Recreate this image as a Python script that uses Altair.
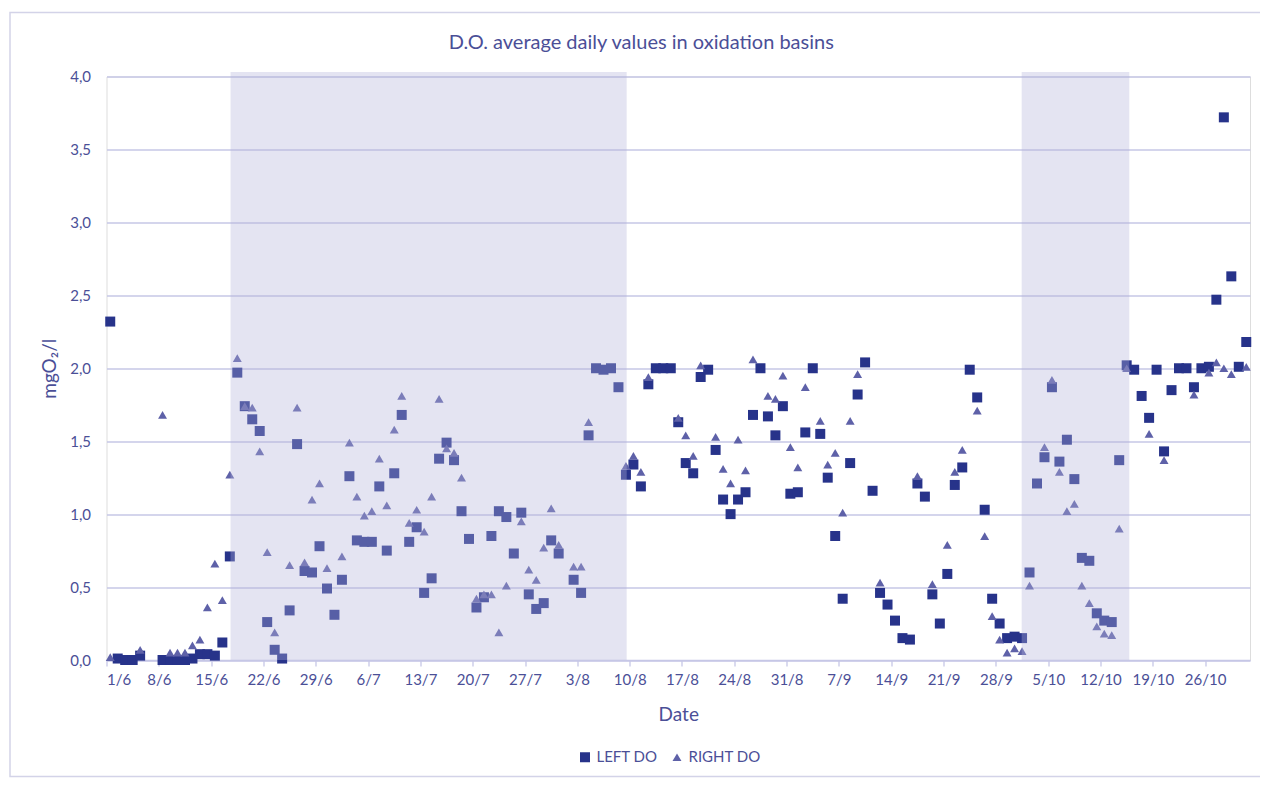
import json
from datetime import date

import altair as alt
import pandas as pd

# ---------------- data ----------------
chart_title = "D.O. average daily values in oxidation basins"
y_title = "mgO₂/l"
x_title = "Date"
series_names = ["LEFT DO", "RIGHT DO"]

left_dates = [
    "1/6", "2/6", "3/6", "4/6", "5/6", "8/6", "9/6", "10/6", "11/6", "12/6", "13/6", "14/6", "15/6",
    "16/6", "17/6", "18/6", "19/6", "20/6", "21/6", "22/6", "23/6", "24/6", "25/6", "26/6", "27/6",
    "28/6", "29/6", "30/6", "1/7", "2/7", "3/7", "4/7", "5/7", "6/7", "7/7", "8/7", "9/7", "10/7",
    "11/7", "12/7", "13/7", "14/7", "15/7", "16/7", "17/7", "18/7", "19/7", "20/7", "21/7", "22/7",
    "23/7", "24/7", "25/7", "26/7", "27/7", "28/7", "29/7", "30/7", "31/7", "2/8", "3/8", "4/8",
    "5/8", "6/8", "7/8", "8/8", "9/8", "10/8", "11/8", "12/8", "13/8", "14/8", "15/8", "16/8",
    "17/8", "18/8", "19/8", "20/8", "21/8", "22/8", "23/8", "24/8", "25/8", "26/8", "27/8", "28/8",
    "29/8", "30/8", "31/8", "1/9", "2/9", "3/9", "4/9", "5/9", "6/9", "7/9", "8/9", "9/9", "10/9",
    "11/9", "12/9", "13/9", "14/9", "15/9", "16/9", "17/9", "18/9", "19/9", "20/9", "21/9", "22/9",
    "23/9", "24/9", "25/9", "26/9", "27/9", "28/9", "29/9", "30/9", "1/10", "2/10", "3/10", "4/10",
    "5/10", "6/10", "7/10", "8/10", "9/10", "10/10", "11/10", "12/10", "13/10", "14/10", "15/10",
    "16/10", "17/10", "18/10", "19/10", "20/10", "21/10", "22/10", "23/10", "24/10", "25/10",
    "26/10", "27/10", "28/10", "29/10", "30/10", "31/10",
]
left_values = [
    2.32, 0.01, 0.00, 0.00, 0.03, 0.00, 0.00, 0.00, 0.00, 0.01, 0.04, 0.04, 0.03,
    0.12, 0.71, 1.97, 1.74, 1.65, 1.57, 0.26, 0.07, 0.01, 0.34, 1.48, 0.61,
    0.60, 0.78, 0.49, 0.31, 0.55, 1.26, 0.82, 0.81, 0.81, 1.19, 0.75, 1.28, 1.68,
    0.81, 0.91, 0.46, 0.56, 1.38, 1.49, 1.37, 1.02, 0.83, 0.36, 0.43, 0.85,
    1.02, 0.98, 0.73, 1.01, 0.45, 0.35, 0.39, 0.82, 0.73, 0.55, 0.46, 1.54,
    2.00, 1.99, 2.00, 1.87, 1.27, 1.34, 1.19, 1.89, 2.00, 2.00, 2.00, 1.63,
    1.35, 1.28, 1.94, 1.99, 1.44, 1.10, 1.00, 1.10, 1.15, 1.68, 2.00, 1.67,
    1.54, 1.74, 1.14, 1.15, 1.56, 2.00, 1.55, 1.25, 0.85, 0.42, 1.35, 1.82, 2.04,
    1.16, 0.46, 0.38, 0.27, 0.15, 0.14, 1.21, 1.12, 0.45, 0.25, 0.59, 1.20,
    1.32, 1.99, 1.80, 1.03, 0.42, 0.25, 0.15, 0.16, 0.15, 0.60, 1.21, 1.39,
    1.87, 1.36, 1.51, 1.24, 0.70, 0.68, 0.32, 0.27, 0.26, 1.37, 2.02,
    1.99, 1.81, 1.66, 1.99, 1.43, 1.85, 2.00, 2.00, 1.87, 2.00,
    2.01, 2.47, 3.72, 2.63, 2.01, 2.18,
]

right_dates = [
    "1/6", "5/6", "8/6", "9/6", "10/6", "11/6", "12/6", "13/6", "14/6", "15/6", "16/6", "17/6",
    "18/6", "19/6", "20/6", "21/6", "22/6", "23/6", "25/6", "26/6", "27/6", "28/6", "29/6", "30/6",
    "2/7", "3/7", "4/7", "5/7", "6/7", "7/7", "8/7", "9/7", "10/7", "11/7", "12/7", "13/7", "14/7",
    "15/7", "16/7", "17/7", "18/7", "20/7", "21/7", "22/7", "23/7", "24/7", "26/7", "27/7", "28/7",
    "29/7", "30/7", "31/7", "2/8", "3/8", "4/8", "9/8", "10/8", "11/8", "12/8", "16/8", "17/8",
    "18/8", "19/8", "21/8", "22/8", "23/8", "24/8", "25/8", "26/8", "28/8", "29/8", "30/8", "31/8",
    "1/9", "2/9", "4/9", "5/9", "6/9", "7/9", "8/9", "9/9", "12/9", "17/9", "19/9", "21/9", "22/9",
    "23/9", "25/9", "26/9", "27/9", "28/9", "29/9", "30/9", "1/10", "2/10", "4/10", "5/10", "6/10",
    "7/10", "8/10", "9/10", "10/10", "11/10", "12/10", "13/10", "14/10", "15/10", "18/10", "20/10",
    "24/10", "26/10", "27/10", "28/10", "29/10", "31/10",
]
right_values = [
    0.02, 0.07, 1.68, 0.05, 0.05, 0.05, 0.10, 0.14, 0.36, 0.66, 0.41, 1.27,
    2.07, 1.74, 1.73, 1.43, 0.74, 0.19, 0.65, 1.73, 0.67, 1.10, 1.21, 0.63,
    0.71, 1.49, 1.12, 0.99, 1.02, 1.38, 1.06, 1.58, 1.81, 0.94, 1.03, 0.88, 1.12,
    1.79, 1.45, 1.42, 1.25, 0.42, 0.45, 0.45, 0.19, 0.51, 0.95, 0.62, 0.55,
    0.77, 1.04, 0.79, 0.64, 0.64, 1.63, 1.33, 1.40, 1.29, 1.94, 1.66, 1.54,
    1.40, 2.02, 1.53, 1.31, 1.21, 1.51, 1.30, 2.06, 1.81, 1.79, 1.95, 1.46,
    1.32, 1.87, 1.64, 1.34, 1.42, 1.01, 1.64, 1.96, 0.53, 1.26, 0.52, 0.79, 1.29,
    1.44, 1.71, 0.85, 0.30, 0.14, 0.05, 0.08, 0.06, 0.51, 1.46, 1.92, 1.29,
    1.02, 1.07, 0.51, 0.39, 0.23, 0.18, 0.17, 0.90, 2.00, 1.55, 1.37,
    1.82, 1.97, 2.04, 2.00, 1.96, 2.01,
]

# x-axis tick labels (one every 7 days from 1/6)
tick_labels = ["1/6", "8/6", "15/6", "22/6", "29/6", "6/7", "13/7", "20/7", "27/7", "3/8",
               "10/8", "17/8", "24/8", "31/8", "7/9", "14/9", "21/9", "28/9", "5/10",
               "12/10", "19/10", "26/10"]
y_ticks = [0.0, 0.5, 1.0, 1.5, 2.0, 2.5, 3.0, 3.5, 4.0]

# shaded periods, in days after 1/6
shade_start = [16.1, 121.95]
shade_end = [69.1, 136.35]
shade_top = [4.03, 4.03]

# ---------------- styling ----------------
FONT = "Lato"
TEXT = "#4b4f97"
GRID = "#c6c7e6"
LEFT_C = "#27338a"
RIGHT_C = "#5e61a8"
SHADE_C = "#b3b3d9"
FRAME_C = "#d3d3e8"


def day_index(s):
    d, m = map(int, s.split("/"))
    return (date(2019, m, d) - date(2019, 6, 1)).days


rows = [{"day": day_index(s), "value": v, "series": series_names[0]}
        for s, v in zip(left_dates, left_values)]
rows += [{"day": day_index(s), "value": v, "series": series_names[1]}
         for s, v in zip(right_dates, right_values)]
df = pd.DataFrame(rows)

shade_df = pd.DataFrame({"start": shade_start, "end": shade_end,
                         "bottom": [0, 0], "top": shade_top})

W, H = 1143.5, 583.5
x_scale = alt.Scale(domain=[-0.5, 152.5], nice=False, zero=False)
y_scale = alt.Scale(domain=[0, 4], nice=False)

label_expr = "{}[round((datum.value + 0.5) / 7)]".format(json.dumps(tick_labels))

x_axis = alt.Axis(
    values=[7 * i - 0.5 for i in range(len(tick_labels))],
    labelExpr=label_expr,
    grid=False,
    domainColor=GRID, domainWidth=1.3,
    tickColor=GRID, tickSize=6, tickWidth=1.3,
    labelColor=TEXT, labelFont=FONT, labelFontSize=15, labelPadding=6,
    labelOverlap=False,
    titleColor=TEXT, titleFont=FONT, titleFontSize=19, titleFontWeight="normal",
    titlePadding=18,
)
y_axis = alt.Axis(
    values=y_ticks,
    labelExpr="replace(format(datum.value, '.1f'), '.', ',')",
    grid=True, gridColor=GRID, gridWidth=1.3,
    domain=False, ticks=False,
    labelColor=TEXT, labelFont=FONT, labelFontSize=15, labelPadding=16,
    titleColor=TEXT, titleFont=FONT, titleFontSize=19, titleFontWeight="normal",
    titlePadding=10,
)

legend = alt.Legend(
    title=None, orient="none", direction="horizontal",
    legendX=471, legendY=673,
    labelColor=TEXT, labelFont=FONT, labelFontSize=15, labelOffset=4,
    symbolSize=100, symbolStrokeWidth=0, columnPadding=12,
)

points = alt.Chart(df).mark_point(filled=True, opacity=1).encode(
    x=alt.X("day:Q", scale=x_scale, axis=x_axis, title=x_title),
    y=alt.Y("value:Q", scale=y_scale, axis=y_axis, title=y_title),
    color=alt.Color("series:N", scale=alt.Scale(domain=series_names, range=[LEFT_C, RIGHT_C]),
                    legend=legend),
    shape=alt.Shape("series:N", scale=alt.Scale(domain=series_names, range=["square", "triangle-up"]),
                    legend=legend),
    size=alt.Size("series:N", scale=alt.Scale(domain=series_names, range=[100, 80]), legend=None),
)

shade = alt.Chart(shade_df).mark_rect(color=SHADE_C, opacity=0.35).encode(
    x=alt.X("start:Q", scale=x_scale, title=x_title),
    x2="end:Q",
    y=alt.Y("bottom:Q", scale=y_scale, title=y_title),
    y2="top:Q",
)

frame = alt.Chart(pd.DataFrame({"k": [0]})).mark_rect(
    fillOpacity=0, stroke=FRAME_C, strokeWidth=1.5
).encode(
    x=alt.value(-96.5), x2=alt.value(1162.5), y=alt.value(-64), y2=alt.value(700),
)

chart = alt.layer(points, shade, frame).properties(
    width=W, height=H,
    autosize=alt.AutoSizeParams(type="none"),
    padding={"left": 98.5, "top": 68.5, "right": 10, "bottom": 125},
    title=alt.TitleParams(
        text=chart_title, font=FONT, fontSize=20, fontWeight="normal", color=TEXT,
        anchor="middle", frame="group", dx=-37, offset=0, dy=41,
    ),
).configure_view(strokeWidth=0).configure(background="white")

chart.save("out.html", embed_options={"renderer": "svg", "actions": False})
